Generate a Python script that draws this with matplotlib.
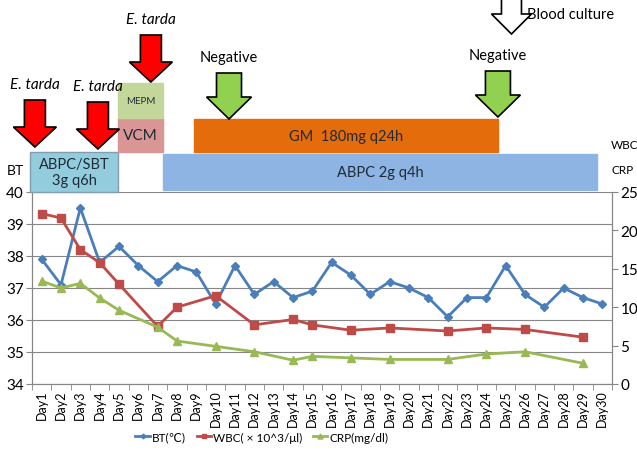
import matplotlib
matplotlib.use("Agg")
import matplotlib.pyplot as plt
from matplotlib.patches import Rectangle, Polygon

plt.rcParams['font.family'] = ['Lato', 'DejaVu Sans']

days = list(range(1, 31))
day_labels = ["Day%d" % d for d in days]

# body temperature, every day
bt = [37.9, 37.1, 39.5, 37.8, 38.3, 37.7, 37.2, 37.7, 37.5, 36.5,
      37.7, 36.8, 37.2, 36.7, 36.9, 37.8, 37.4, 36.8, 37.2, 37.0,
      36.7, 36.1, 36.7, 36.7, 37.7, 36.8, 36.4, 37.0, 36.7, 36.5]

# lab days
lab_days = [1, 2, 3, 4, 5, 7, 8, 10, 12, 14, 15, 17, 19, 22, 24, 26, 29]
wbc = [22.2, 21.6, 17.5, 15.8, 13.0, 7.5, 10.0, 11.5, 7.7, 8.4, 7.7,
       7.0, 7.3, 6.9, 7.3, 7.1, 6.1]
crp = [13.4, 12.5, 13.1, 11.2, 9.6, 7.4, 5.6, 4.9, 4.2, 3.1, 3.6,
       3.4, 3.2, 3.2, 3.9, 4.2, 2.7]

# treatment bars: (label, start day, end day, top px, bottom px, colour, size)
treatments = [
    ("ABPC/SBT\n3g q6h", 0.4, 4.95, 153, 193, "#93CDDD", 10.5),
    ("VCM", 4.95, 7.28, 119, 153, "#DA9694", 11),
    ("MEPM", 4.95, 7.28, 84, 119, "#C4D79B", 7),
    ("GM  180mg q24h", 8.9, 24.6, 120, 153, "#E46C0A", 10.5),
    ("ABPC 2g q4h", 7.28, 29.74, 155, 191, "#8DB4E2", 10.5),
]
# culture results: (day, label, tip px, colour)
cultures = [(0.65, "E. tarda", 148, "#FF0000"),
            (3.91, "E. tarda", 150, "#FF0000"),
            (6.65, "E. tarda", 83, "#FF0000"),
            (10.69, "Negative", 120, "#92D050"),
            (24.6, "Negative", 118, "#92D050")]

W, H = 637, 452
fig = plt.figure(figsize=(W / 100, H / 100), dpi=100)
x0, x1, y_top, y_bot = 32, 612, 193, 385
ax = fig.add_axes([x0 / W, 1 - y_bot / H, (x1 - x0) / W, (y_bot - y_top) / H])
ax2 = ax.twinx()

gray = "#868686"
ax.plot(days, bt, color="#4A7EBB", marker="D", ms=4, lw=2, label="BT(℃)")
l2, = ax2.plot(lab_days, wbc, color="#BE4B48", marker="s", ms=6, lw=2,
               label="WBC( × 10^3/μl)")
l3, = ax2.plot(lab_days, crp, color="#98B954", marker="^", ms=6, lw=2,
               label="CRP(mg/dl)")

ax.set_xlim(0.5, 30.5)
ax.set_ylim(34, 40)
ax2.set_ylim(0, 25)
ax.set_yticks(range(34, 41))
ax2.set_yticks(range(0, 26, 5))
ax.grid(axis="y", color=gray, lw=0.8)
ax.set_axisbelow(True)
ax.set_xticks(days)
ax.set_xticklabels(day_labels, rotation=90, fontsize=9)
ax.set_xticks([d + 0.5 for d in range(0, 31)], minor=True)
ax.tick_params(axis="x", which="major", length=0, pad=4)
ax.tick_params(axis="x", which="minor", length=4, color=gray)
ax.tick_params(axis="y", labelsize=11, length=4, color=gray, pad=2)
ax2.tick_params(axis="y", labelsize=11, length=4, color=gray, pad=2)
for a in (ax, ax2):
    for s in a.spines.values():
        s.set_color(gray)
    a.spines["top"].set_visible(False)

h1, _ = ax.get_legend_handles_labels()
handles = h1 + [l2, l3]
fig.legend(handles, [h.get_label() for h in handles],
           loc="center", bbox_to_anchor=(262 / W, 1 - 438 / H),
           ncol=3, frameon=False, fontsize=8.5, handlelength=1.2,
           columnspacing=0.9, handletextpad=0.2, borderpad=0,
           markerscale=0.6)

# overlay for treatments, x in days, y in pixels from the top
top = fig.add_axes([x0 / W, 1 - y_top / H, (x1 - x0) / W, y_top / H])
top.set_xlim(0.5, 30.5)
top.set_ylim(y_top, 0)
top.axis("off")
px = 580 / 30.0  # pixels per day

for label, s, e, t, b, c, fs in treatments:
    top.add_patch(Rectangle((s, t), e - s, b - t, facecolor=c,
                            edgecolor="#7F9FB0" if "ABPC/" in label else c,
                            lw=1, clip_on=False))
    top.text((s + e) / 2, (t + b) / 2, label, ha="center", va="center",
             fontsize=fs, color="#1F2A36", linespacing=1.2, clip_on=False)


def arrow(xc, tip, length, shaft, head, headlen, fc):
    sw, hw = shaft / px / 2, head / px / 2
    y0 = tip - length
    yh = tip - headlen
    pts = [(xc - sw, y0), (xc + sw, y0), (xc + sw, yh), (xc + hw, yh),
           (xc, tip), (xc - hw, yh), (xc - sw, yh)]
    top.add_patch(Polygon(pts, closed=True, facecolor=fc, edgecolor="black",
                          lw=1.2, clip_on=False, zorder=5))


for d, label, tip, c in cultures:
    if c == "#FF0000":
        arrow(d, tip, 47, 21, 43, 20, c)
        top.text(d, tip - 56, label, ha="center", va="bottom",
                 fontsize=11, style="italic", clip_on=False)
    else:
        arrow(d, tip, 46, 25, 45, 22, c)
        top.text(d, tip - 55, label, ha="center", va="bottom",
                 fontsize=10.5, clip_on=False)

arrow(25.3, 35, 35, 20, 40, 20, "white")
top.text(25.3 + 0.8, 15, "Blood culture", ha="left", va="center",
         fontsize=10.5, clip_on=False)

fig.text(7 / W, 1 - 171 / H, "BT", fontsize=10, va="center", ha="left")
fig.text(611 / W, 1 - 146 / H, "WBC", fontsize=8.5, va="center", ha="left")
fig.text(611 / W, 1 - 171 / H, "CRP", fontsize=8.5, va="center", ha="left")

fig.savefig("out.png", dpi=100)
